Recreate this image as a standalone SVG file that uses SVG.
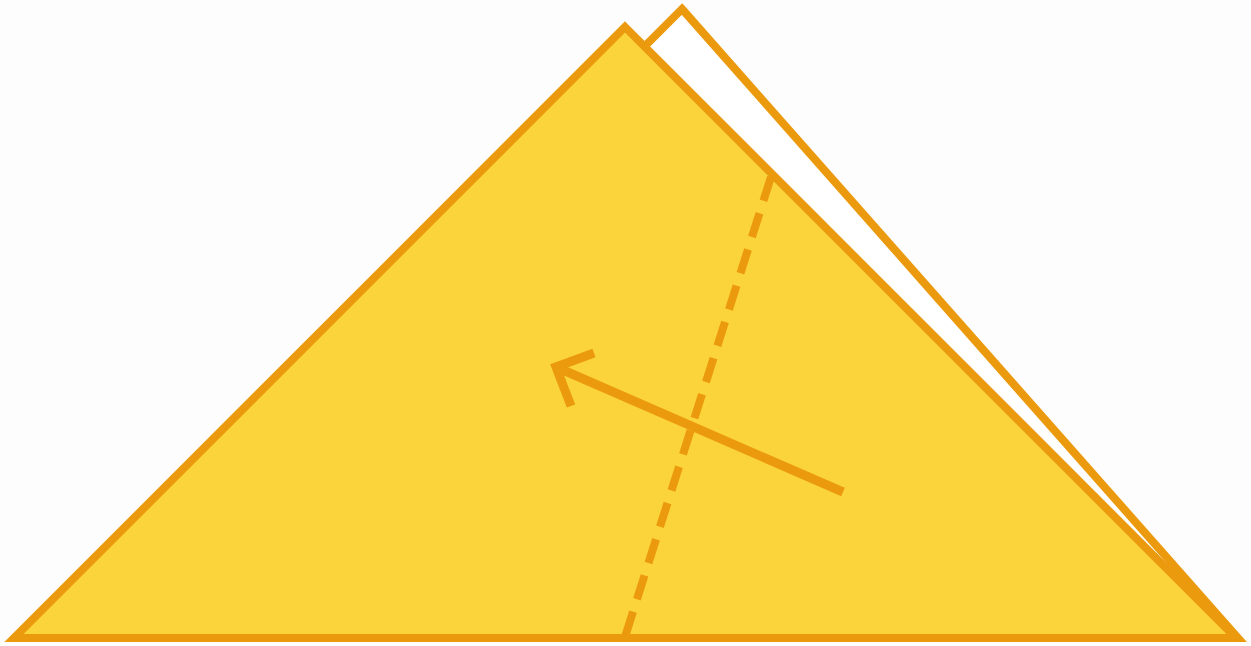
<svg xmlns="http://www.w3.org/2000/svg" width="1251" height="646" viewBox="0 0 1251 646">
<style>
.edge{stroke:#EB9A0E;stroke-width:8;stroke-linejoin:miter;fill:none}
.back{fill:#FFFFFF}
.front{fill:#FBD43B}
.fold{stroke:#EB9A0E;stroke-width:8;fill:none;stroke-dasharray:25 13}
.arrow{stroke:#EB9A0E;stroke-width:9;fill:none;stroke-linecap:butt;stroke-linejoin:miter}
</style>
<rect width="1251" height="646" fill="#FDFDFD"/>
<g id="back-layer">
<polygon class="back edge" points="682,9 1238,638 54,638"/>
</g>
<g id="front-layer">
<polygon class="front edge" points="625,27 1236,638 14,638"/>
</g>
<g id="connectors">
<line class="fold" x1="771" y1="177" x2="625" y2="637"/>
<line class="arrow" x1="843" y1="492" x2="556" y2="367"/>
<polyline class="arrow" points="594,353 556,367 571,406"/>
</g>
</svg>
